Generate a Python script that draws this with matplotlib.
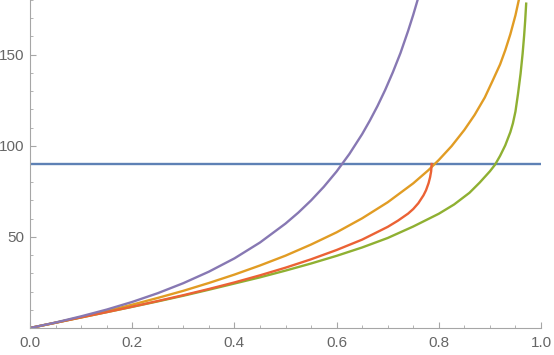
import matplotlib
matplotlib.use("Agg")
import matplotlib.pyplot as plt
from matplotlib.ticker import MultipleLocator

# horizontal reference line
blue_x = [0.0, 1.0]
blue_y = [90, 90]

# curves (degrees)
orange_x = [0, 0.05, 0.1, 0.15, 0.2, 0.25, 0.3, 0.35, 0.4, 0.45, 0.5, 0.55, 0.6, 0.65, 0.7, 0.75,
            0.78, 0.8, 0.825, 0.85, 0.87, 0.89, 0.905, 0.92, 0.93, 0.94, 0.95, 0.96]
orange_y = [0, 2.9, 6.0, 9.3, 12.8, 16.5, 20.4, 24.7, 29.3, 34.3, 39.7, 45.8, 52.5, 60.2, 69.0, 79.4,
            86.7, 92.2, 99.8, 108.7, 116.9, 126.5, 135.5, 144.7, 152.4, 161.2, 171.6, 184.4]

green_x = [0, 0.05, 0.1, 0.15, 0.2, 0.25, 0.3, 0.35, 0.4, 0.45, 0.5, 0.55, 0.6, 0.65, 0.7, 0.75,
           0.8, 0.83, 0.86, 0.88, 0.9, 0.91, 0.92, 0.93, 0.94, 0.945, 0.95, 0.955, 0.96, 0.964,
           0.967, 0.969, 0.971]
green_y = [0, 2.9, 5.8, 8.7, 11.6, 14.6, 17.7, 21.0, 24.4, 27.8, 31.5, 35.4, 39.6, 44.2, 49.4, 55.7,
           62.7, 67.8, 74.2, 79.8, 86.0, 89.6, 94.5, 100.2, 107.5, 112.3, 118.8, 128.5, 139.5, 150.5,
           160.5, 168.5, 178.0]

red_x = [0, 0.05, 0.1, 0.15, 0.2, 0.25, 0.3, 0.35, 0.4, 0.45, 0.5, 0.55, 0.6, 0.65, 0.7, 0.72,
         0.74, 0.75, 0.76, 0.77, 0.775, 0.78, 0.783, 0.785, 0.786]
red_y = [0, 2.9, 5.8, 8.7, 11.7, 14.8, 18.0, 21.4, 25.0, 28.9, 33.1, 37.7, 42.8, 48.5, 55.5, 58.9,
         62.8, 65.3, 68.5, 72.8, 75.6, 79.5, 82.8, 86.0, 90.0]

purple_x = [0, 0.05, 0.1, 0.15, 0.2, 0.25, 0.3, 0.35, 0.4, 0.45, 0.5, 0.525, 0.55, 0.575, 0.6,
            0.625, 0.65, 0.665, 0.68, 0.695, 0.71, 0.725, 0.74, 0.75, 0.76]
purple_y = [0, 3.0, 6.4, 10.1, 14.3, 19.1, 24.6, 30.9, 38.2, 46.9, 57.3, 63.3, 70.0, 77.5, 85.9,
            95.5, 106.4, 113.8, 121.8, 130.6, 140.3, 150.9, 163.1, 171.9, 181.4]

plt.rcParams['font.family'] = ['Liberation Sans', 'DejaVu Sans']

fig = plt.figure(figsize=(5.54, 3.55), dpi=100)
ax = fig.add_axes([30 / 554, 27 / 355, 511 / 554, 328 / 355])

lw = 1.7
ax.plot(blue_x, blue_y, color='#5E81B5', lw=lw)
ax.plot(orange_x, orange_y, color='#E19C24', lw=lw)
ax.plot(green_x, green_y, color='#8FB032', lw=lw)
ax.plot(red_x, red_y, color='#EB6235', lw=lw)
ax.plot(purple_x, purple_y, color='#8778B3', lw=lw)

ax.set_xlim(0, 1.0)
ax.set_ylim(0, 180)

for s in ['top', 'right']:
    ax.spines[s].set_visible(False)
for s in ['left', 'bottom']:
    ax.spines[s].set_color('#a6a6a6')
    ax.spines[s].set_linewidth(0.8)

ax.xaxis.set_minor_locator(MultipleLocator(0.05))
ax.yaxis.set_minor_locator(MultipleLocator(10))
ax.set_xticks([0, 0.2, 0.4, 0.6, 0.8, 1.0])
ax.set_xticklabels(['0.0', '0.2', '0.4', '0.6', '0.8', '1.0'])
ax.set_yticks([50, 100, 150])

ax.tick_params(which='both', direction='in', color='#a6a6a6', labelcolor='#666666', labelsize=11)
ax.tick_params(which='major', length=4, width=0.8)
ax.tick_params(which='minor', length=2.5, width=0.6)
ax.tick_params(axis='x', pad=6)
ax.tick_params(axis='y', pad=4)

fig.savefig('out.png', dpi=100)
